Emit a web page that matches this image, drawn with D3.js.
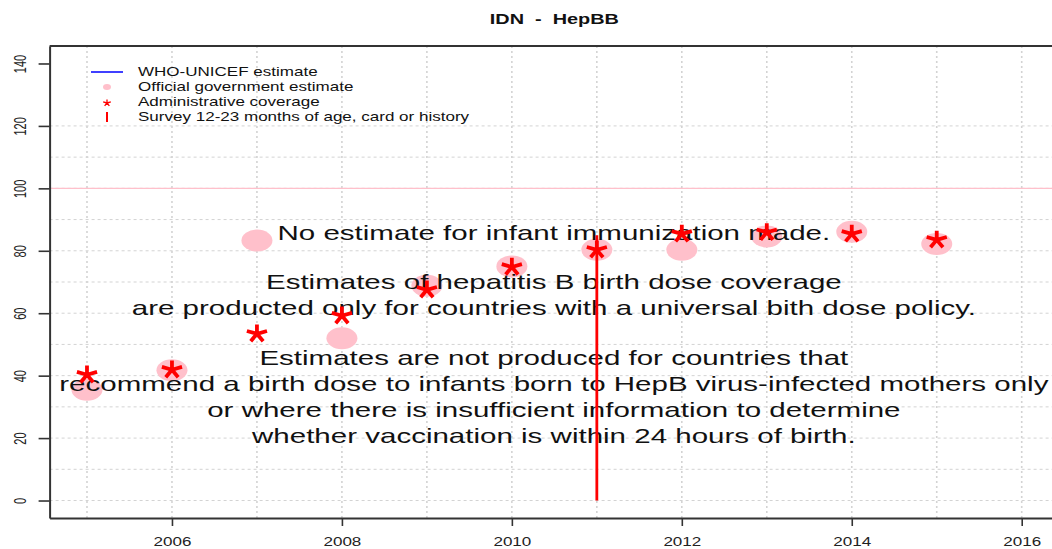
<!DOCTYPE html>
<html>
<head>
<meta charset="utf-8">
<script src="https://cdn.jsdelivr.net/npm/d3@7"></script>
<style>
  body { margin: 0; background: #fff; }
  svg { display: block; font-family: "Liberation Sans", Arial, sans-serif; }
</style>
</head>
<body>
<div id="chart"></div>
<script>
// data
var years = [2005, 2006, 2007, 2008, 2009, 2010, 2011, 2012, 2013, 2014, 2015];
var officialEstimate = [35.5, 41.7, 83.3, 52, 68.8, 75, 80.3, 80.3, 84.6, 86.1, 82.2];
var adminCoverage = [40.3, 41.9, 53.4, 59.2, 67.5, 74.8, 80.3, 85.4, 85.9, 85.4, 83.5];
var surveyYears = [2011];
var surveyValues = [85];
var whoUnicef = []; // no estimate made
var xTicks = [2006, 2008, 2010, 2012, 2014, 2016];
var yTicks = [0, 20, 40, 60, 80, 100, 120, 140];
var gridYears = d3.range(2005, 2017);
var gridValues = d3.range(0, 121, 10);

var legendItems = ["WHO-UNICEF estimate", "Official government estimate",
    "Administrative coverage", "Survey 12-23 months of age, card or history"];
var noteLines = [
    ["No estimate for infant immunization made."],
    ["Estimates of hepatitis B birth dose coverage",
     "are producted only for countries with a universal bith dose policy."],
    ["Estimates are not produced for countries that",
     "recommend a birth dose to infants born to HepB virus-infected mothers only",
     "or where there is insufficient information to determine",
     "whether vaccination is within 24 hours of birth."]
];

var width = 1052, height = 549;
var sx = 1.42; // the picture is stretched sideways
var x = d3.scaleLinear().domain([2004.56, 2016.44]).range([49.6, 1059.1]);
var y = d3.scaleLinear().domain([-5.6, 145.6]).range([518, 46]);

var svg = d3.select("#chart").append("svg")
    .attr("width", width)
    .attr("height", height)
    .style("background", "#fff");

// grid
svg.append("g").selectAll("line")
    .data(gridYears).enter().append("line")
    .attr("x1", function (d) { return x(d); })
    .attr("x2", function (d) { return x(d); })
    .attr("y1", y.range()[1])
    .attr("y2", y.range()[0])
    .attr("stroke", "#d3d3d3")
    .attr("stroke-width", 1.6)
    .attr("stroke-dasharray", "2,3");

svg.append("g").selectAll("line")
    .data(gridValues).enter().append("line")
    .attr("x1", x.range()[0])
    .attr("x2", width)
    .attr("y1", function (d) { return y(d); })
    .attr("y2", function (d) { return y(d); })
    .attr("stroke", "#d3d3d3")
    .attr("stroke-width", 1)
    .attr("stroke-dasharray", "3,3");

// 100% line
svg.append("line")
    .attr("x1", x.range()[0]).attr("x2", width)
    .attr("y1", y(100)).attr("y2", y(100))
    .attr("stroke", "pink")
    .attr("stroke-width", 1.2);

// axes
var xAxis = svg.append("g")
    .attr("transform", "translate(0," + y.range()[0] + ")")
    .call(d3.axisBottom(x).tickValues(xTicks).tickSize(8).tickSizeOuter(0).tickFormat(d3.format("d")));
var yAxis = svg.append("g")
    .attr("transform", "translate(" + x.range()[0] + ",0)")
    .call(d3.axisLeft(y).tickValues(yTicks).tickSize(11).tickSizeOuter(0));

[xAxis, yAxis].forEach(function (a) {
    a.select(".domain").attr("stroke", "#333").attr("stroke-width", 2);
    a.selectAll(".tick line").attr("stroke", "#333").attr("stroke-width", 1.6);
    a.selectAll(".tick text").attr("fill", "#222").attr("font-size", 12)
        .attr("font-family", "Liberation Sans, Arial, sans-serif");
});
xAxis.selectAll(".tick text")
    .attr("y", null).attr("dy", null)
    .attr("text-anchor", "middle")
    .attr("transform", "translate(0,28) scale(" + sx + ",1)");
yAxis.selectAll(".tick text")
    .attr("x", null).attr("dy", null)
    .attr("font-size", 11)
    .attr("text-anchor", "middle")
    .attr("transform", "translate(-24,0) scale(" + sx + ",1) rotate(-90)");

// top border
svg.append("line")
    .attr("x1", x.range()[0]).attr("x2", width)
    .attr("y1", y.range()[1]).attr("y2", y.range()[1])
    .attr("stroke", "#333").attr("stroke-width", 2);

// title
svg.append("text")
    .attr("transform", "translate(" + x(2010.5) + ",24) scale(" + sx + ",1)")
    .attr("text-anchor", "middle")
    .attr("font-size", 14)
    .attr("font-weight", "bold")
    .attr("fill", "#111")
    .style("white-space", "pre")
    .text("IDN  -  HepBB");

// official government estimate
svg.append("g").selectAll("ellipse")
    .data(years).enter().append("ellipse")
    .attr("cx", function (d) { return x(d); })
    .attr("cy", function (d, i) { return y(officialEstimate[i]); })
    .attr("rx", 15.5)
    .attr("ry", 11)
    .attr("fill", "pink");

// WHO-UNICEF estimate (empty)
svg.append("path")
    .datum(whoUnicef)
    .attr("fill", "none")
    .attr("stroke", "blue")
    .attr("stroke-width", 2)
    .attr("d", d3.line().x(function (d) { return x(d.year); }).y(function (d) { return y(d.value); }));

// notes
var noteBaselines = [[239.5], [289.3, 315], [365.3, 391, 417, 442.5]];
var notes = svg.append("g")
    .attr("font-size", 20.5)
    .attr("fill", "#111")
    .attr("text-anchor", "middle");
noteLines.forEach(function (block, b) {
    block.forEach(function (line, i) {
        notes.append("text")
            .attr("transform", "translate(" + (x(2010.5) - 0.5) + "," + noteBaselines[b][i] + ") scale(1.44,1)")
            .text(line);
    });
});

// asterisk
function star(r) {
    var p = "";
    [90, 18, 162, -54, -126].forEach(function (a) {
        var t = a * Math.PI / 180;
        p += "M0,0L" + (Math.cos(t) * r * 1.15) + "," + (-Math.sin(t) * r);
    });
    return p;
}

svg.append("g").selectAll("path")
    .data(years).enter().append("path")
    .attr("transform", function (d, i) { return "translate(" + x(d) + "," + y(adminCoverage[i]) + ")"; })
    .attr("d", star(9.2))
    .attr("stroke", "red")
    .attr("stroke-width", 3.8)
    .attr("fill", "none");

// survey
svg.append("g").selectAll("line")
    .data(surveyYears).enter().append("line")
    .attr("x1", function (d) { return x(d); })
    .attr("x2", function (d) { return x(d); })
    .attr("y1", y(0))
    .attr("y2", function (d, i) { return y(surveyValues[i]); })
    .attr("stroke", "red")
    .attr("stroke-width", 2.8);

// legend
var legend = svg.append("g");
var ly = [72, 87, 102, 117];
legend.append("line")
    .attr("x1", 91).attr("x2", 123).attr("y1", ly[0]).attr("y2", ly[0])
    .attr("stroke", "blue").attr("stroke-width", 1.5);
legend.append("ellipse")
    .attr("cx", 107).attr("cy", ly[1]).attr("rx", 4).attr("ry", 3)
    .attr("fill", "pink");
legend.append("path")
    .attr("transform", "translate(107," + (ly[2] + 1) + ")")
    .attr("d", star(3.5))
    .attr("stroke", "red").attr("stroke-width", 1.3).attr("fill", "none");
legend.append("line")
    .attr("x1", 107).attr("x2", 107).attr("y1", ly[3] - 5).attr("y2", ly[3] + 5)
    .attr("stroke", "red").attr("stroke-width", 2);
legend.selectAll("text")
    .data(legendItems).enter().append("text")
    .attr("transform", function (d, i) { return "translate(138," + (ly[i] + 4.3) + ") scale(" + sx + ",1)"; })
    .attr("font-size", 12)
    .attr("fill", "#111")
    .text(function (d) { return d; });
</script>
</body>
</html>
